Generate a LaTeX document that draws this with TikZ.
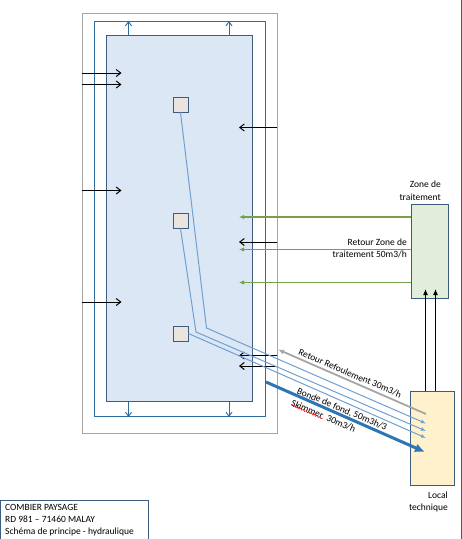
\documentclass[tikz,border=0pt]{standalone}
\usepackage{fontspec}
\setmainfont{Carlito}
\usetikzlibrary{arrows.meta,positioning,calc,decorations.pathmorphing}
\definecolor{PoolBlue}{RGB}{220,231,245}
\definecolor{EdgeBlue}{RGB}{62,92,125}
\definecolor{ChanBlue}{RGB}{47,108,158}
\definecolor{PipeBlue}{RGB}{112,160,208}
\definecolor{MainBlue}{RGB}{46,117,182}
\definecolor{LeafGreen}{RGB}{119,160,74}
\definecolor{SkimFill}{RGB}{235,227,222}
\definecolor{ZoneFill}{RGB}{226,238,218}
\definecolor{LocalFill}{RGB}{255,241,204}
\tikzset{
  box/.style={draw=EdgeBlue,line width=0.9pt,inner sep=0pt},
  skim/.style={box,fill=SkimFill,minimum width=15pt,minimum height=15pt},
  jet/.style={-{Straight Barb[length=4.5pt,width=7pt]},black,line width=1pt},
  chan/.style={-{Straight Barb[length=4pt,width=6pt]},ChanBlue,line width=0.9pt},
  pipe/.style={-{Latex[length=5pt,width=4pt]},PipeBlue,line width=1pt},
  back/.style={-{Latex[length=5pt,width=4.5pt]},LeafGreen,line width=1.1pt},
  lift/.style={-{Latex[length=6pt,width=5pt]},black,line width=1.1pt},
  slab/.style={font=\fontsize{9.5}{11}\selectfont,align=right,inner sep=0pt}
}
\begin{document}
\begin{tikzpicture}[x=1pt,y=-1pt]
  \useasboundingbox (0,0) rectangle (462,539);
  \fill[white] (0,0) rectangle (462,539);

  \node[draw=black!35,line width=0.9pt,minimum width=194.5pt,minimum height=419.5pt] (outer) at (179.75,223.25) {};
  \node[draw=ChanBlue,line width=0.9pt,minimum width=171pt,minimum height=395pt] (channel) at (180,219) {};
  \node[box,fill=PoolBlue,minimum width=146pt,minimum height=366pt] (pool) at (179.5,218.5) {};

  \node[skim] (skimA) at (180.5,104.5) {};
  \node[skim] (skimB) at (180.5,220.5) {};
  \node[skim] (skimC) at (180.5,333.5) {};

  \node[box,fill=ZoneFill,minimum width=37pt,minimum height=94pt] (zone) at (430,251.5) {};
  \node[box,fill=LocalFill,minimum width=44pt,minimum height=94pt] (local) at (432.5,438.5) {};

  % inlets and outlets of the channel
  \foreach \n/\xx in {a/128.5,b/229}{
    \coordinate (up\n) at (\xx,0);
    \draw[chan] (up\n |- pool.north) -- (up\n |- channel.north);
    \draw[chan] (up\n |- pool.south) -- (up\n |- channel.south);
  }
  \foreach \n/\yy in {a/73,b/84.5,c/190.5,d/302}{
    \coordinate (in\n) at (121.5,\yy);
    \draw[jet] (outer.west |- in\n) -- (in\n);
  }
  \foreach \n/\yy in {a/127.5,b/242,c/355.5,d/366}{
    \coordinate (out\n) at (239,\yy);
    \draw[jet] (outer.east |- out\n) -- (out\n);
  }
  \foreach \n/\yy in {a/217,b/249.5,c/282.5}{
    \coordinate (gr\n) at (239,\yy);
    \draw[back] (zone.west |- gr\n) -- (gr\n);
  }

  % pipes from the skimmers to the plant room
  \coordinate (bendA) at (206.5,328);
  \coordinate (bendB) at (196,332);
  \coordinate (endA) at (426,423.5);
  \coordinate (endB) at (426,431);
  \coordinate (endC) at (426,438);
  \draw[pipe] (skimA.south) -- (bendA) -- (endA);
  \draw[pipe] (skimB.south) -- (bendB) -- (endB);
  \draw[pipe] (skimC.east) -- (endC);

  \coordinate (greyA) at (426,414);
  \coordinate (greyB) at (278,349.5);
  \draw[-{Latex[length=6pt,width=5pt]},black!35,line width=1.8pt] (greyA) -- (greyB);
  \coordinate (mainA) at (266,382);
  \coordinate (mainB) at (425,452);
  \draw[-{Latex[length=10pt,width=9pt]},MainBlue,line width=3pt] (mainA) -- (mainB);

  \coordinate (liftA) at (425.5,0);
  \coordinate (liftB) at (435.5,0);
  \draw[lift] (liftA |- local.north) -- (liftA |- 0,289);
  \draw[lift] (liftB |- local.north) -- (liftB |- 0,289);

  \coordinate (edgeA) at (461,0);
  \coordinate (edgeB) at (461,539);
  \draw[EdgeBlue,line width=0.9pt] (edgeA) -- (edgeB);

  \node[slab,anchor=east] (zoneA) at (441,184) {Zone de};
  \node[slab,anchor=east] (zoneB) at (441,197) {traitement};
  \node[slab,anchor=east] (retA) at (407,242) {Retour Zone de};
  \node[slab,anchor=east] (retB) at (407,254.5) {traitement 50m3/h};
  \node[slab,anchor=east] (localA) at (448,495) {Local};
  \node[slab,anchor=east] (localB) at (448,508) {technique};
  \node[slab,rotate=-23] (refoul) at (350,373.5) {Retour Refoulement 30m3/h};
  \node[slab,rotate=-23] (bonde) at (342,409.5) {Bonde de fond, 50m3h/3};
  \node[slab,rotate=-23] (skimmer) at (323.5,416) {Skimmer\ \ 30m3/h};

  % spell check mark
  \coordinate (wavyA) at (291.5,405);
  \coordinate (wavyB) at (322.5,418.5);
  \draw[red,line width=0.5pt,decorate,decoration={snake,amplitude=0.8pt,segment length=3pt}] (wavyA) -- (wavyB);

  \node[draw=EdgeBlue,line width=0.8pt,anchor=north west,minimum width=148pt,minimum height=41pt,inner sep=0pt] (title) at (0,499.5) {};
  \node[slab,anchor=west] (titleA) at (5,507) {COMBIER PAYSAGE};
  \node[slab,anchor=west] (titleB) at (5,519) {RD 981 – 71460 MALAY};
  \node[slab,anchor=west] (titleC) at (5,532) {Schéma de principe - hydraulique};
\end{tikzpicture}
\end{document}
